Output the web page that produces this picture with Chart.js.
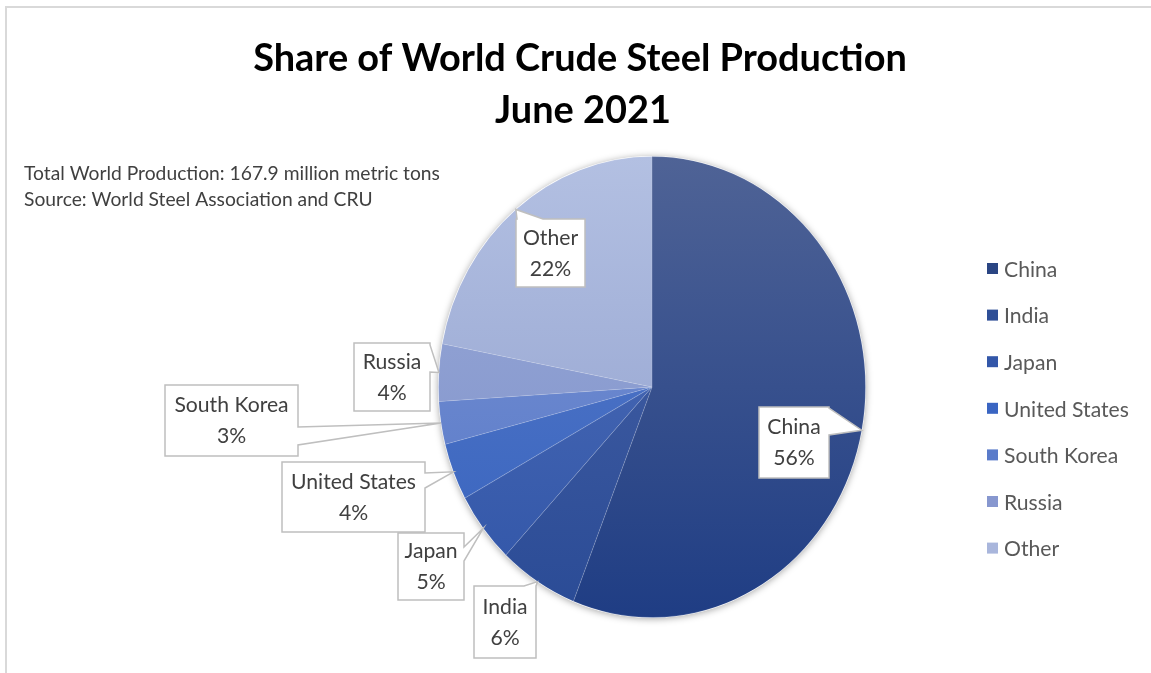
<!DOCTYPE html>
<html>
<head>
<meta charset="utf-8">
<script src="https://cdn.jsdelivr.net/npm/chart.js@4.4.1/dist/chart.umd.min.js"></script>
<style>
    html, body { margin: 0; padding: 0; background: #fff; }
    #wrap { position: relative; width: 1151px; height: 673px; }
</style>
</head>
<body>
<div id="wrap"><canvas id="graf" width="1151" height="673"></canvas></div>
<script>
// data
const countries = ['China', 'India', 'Japan', 'United States', 'South Korea', 'Russia', 'Other'];
const shares = [56, 6, 5, 4, 3, 4, 22];
const titleLines = ['Share of World Crude Steel Production', 'June 2021'];
const noteLines = ['Total World Production: 167.9 million metric tons', 'Source: World Steel Association and CRU'];

// gradient colours per slice (top of pie -> bottom of pie)
const topColors = ['#4f6396', '#4a64a6', '#5270b8', '#5a7cc9', '#7a94d4', '#9aaad8', '#b3c0e2'];
const bottomColors = ['#1f3d84', '#2a4b96', '#3055a8', '#3562be', '#5677c7', '#7d90c9', '#8d9dcc'];
const swatchColors = ['#2a4583', '#2f4f97', '#3357a9', '#3a65c2', '#5a7bca', '#8797cf', '#a9b6dc'];

// callout boxes (placed by hand like in the original)
const callouts = [
    { x: 759, y: 407, w: 70, h: 71, side: 'right', b1: 408, b2: 435 },
    { x: 474, y: 586, w: 62, h: 72, side: 'top', b1: 524, b2: 536 },
    { x: 398, y: 533, w: 66, h: 67, side: 'right', b1: 547, b2: 561 },
    { x: 282, y: 462, w: 143, h: 70, side: 'right', b1: 473, b2: 488 },
    { x: 165, y: 385, w: 133, h: 71, side: 'right', b1: 427, b2: 445 },
    { x: 354, y: 343, w: 76, h: 68, side: 'right', b1: 345, b2: 372 },
    { x: 516, y: 219, w: 69, h: 68, side: 'top', b1: 517, b2: 543 }
];

const FAM = 'Lato, "Noto Sans", sans-serif';
const ySquash = 231 / 214; // pie in the picture is a bit taller than wide

const mctx = document.createElement('canvas').getContext('2d');
function fitSize(text, weight, width) {
    mctx.font = weight + ' 100px ' + FAM;
    return 100 * width / mctx.measureText(text).width;
}
const titleSize = fitSize(titleLines[0], 'bold', 654);
const noteSize = fitSize(noteLines[0], 'normal', 416);
const labelSize = fitSize('United States', 'normal', 125);

function pieGeom(chart) {
    const a = chart.chartArea;
    const cx = (a.left + a.right) / 2, cy = (a.top + a.bottom) / 2;
    const r = Math.min(a.right - a.left, a.bottom - a.top) / 2;
    return { cx, cy, r };
}

const ellipsePlugin = {
    id: 'ellipse',
    beforeDatasetsDraw(chart) {
        const ctx = chart.ctx;
        const g = pieGeom(chart);
        ctx.save();
        ctx.save();
        ctx.shadowColor = 'rgba(0,0,0,0.35)';
        ctx.shadowBlur = 7;
        ctx.shadowOffsetY = 1;
        ctx.beginPath();
        ctx.ellipse(g.cx, g.cy, g.r, g.r * ySquash, 0, 0, Math.PI * 2);
        ctx.fillStyle = '#ffffff';
        ctx.fill();
        ctx.restore();
        ctx.translate(g.cx, g.cy);
        ctx.scale(1, ySquash);
        ctx.translate(-g.cx, -g.cy);
    },
    afterDatasetsDraw(chart) {
        chart.ctx.restore();
    }
};

const textPlugin = {
    id: 'texts',
    afterDraw(chart) {
        const ctx = chart.ctx;
        ctx.save();

        // frame
        ctx.strokeStyle = '#d9d9d9';
        ctx.lineWidth = 2;
        ctx.beginPath();
        ctx.moveTo(6, 673);
        ctx.lineTo(6, 7);
        ctx.lineTo(1151, 7);
        ctx.stroke();

        // title
        ctx.fillStyle = '#000000';
        ctx.textAlign = 'center';
        ctx.textBaseline = 'middle';
        ctx.font = 'bold ' + titleSize + 'px ' + FAM;
        ctx.fillText(titleLines[0], 580, 59);
        ctx.fillText(titleLines[1], 583, 111);

        // notes
        ctx.fillStyle = '#404040';
        ctx.textAlign = 'left';
        ctx.font = noteSize + 'px ' + FAM;
        ctx.fillText(noteLines[0], 24, 174);
        ctx.fillText(noteLines[1], 24, 200);

        // legend
        ctx.font = labelSize + 'px ' + FAM;
        countries.forEach((c, i) => {
            const y = 269 + i * 46.6;
            ctx.fillStyle = swatchColors[i];
            ctx.fillRect(987, y - 6, 11, 11);
            ctx.fillStyle = '#595959';
            ctx.fillText(c, 1004, y + 1);
        });

        // callouts
        const meta = chart.getDatasetMeta(0);
        const g = pieGeom(chart);
        meta.data.forEach((arc, i) => {
            const p = arc.getProps(['startAngle', 'endAngle', 'outerRadius'], true);
            const mid = (p.startAngle + p.endAngle) / 2;
            const tx = g.cx + Math.cos(mid) * p.outerRadius;
            const ty = g.cy + Math.sin(mid) * p.outerRadius * ySquash;
            const b = callouts[i];
            ctx.beginPath();
            ctx.moveTo(b.x, b.y);
            if (b.side === 'top') {
                ctx.lineTo(b.b1, b.y);
                ctx.lineTo(tx, ty);
                ctx.lineTo(b.b2, b.y);
            }
            ctx.lineTo(b.x + b.w, b.y);
            if (b.side === 'right') {
                ctx.lineTo(b.x + b.w, b.b1);
                ctx.lineTo(tx, ty);
                ctx.lineTo(b.x + b.w, b.b2);
            }
            ctx.lineTo(b.x + b.w, b.y + b.h);
            ctx.lineTo(b.x, b.y + b.h);
            ctx.closePath();
            ctx.fillStyle = '#ffffff';
            ctx.fill();
            ctx.strokeStyle = '#bfbfbf';
            ctx.lineWidth = 1.5;
            ctx.stroke();

            ctx.fillStyle = '#404040';
            ctx.textAlign = 'center';
            const mx = b.x + b.w / 2, my = b.y + b.h / 2;
            ctx.fillText(countries[i], mx, my - 15);
            ctx.fillText(shares[i] + '%', mx, my + 16);
        });

        ctx.restore();
    }
};

const ctx = document.getElementById('graf').getContext('2d');
new Chart(ctx, {
    type: 'pie',
    data: {
        labels: countries,
        datasets: [{
            data: shares,
            backgroundColor: function (context) {
                const i = context.dataIndex;
                const chart = context.chart;
                if (!chart.chartArea) return bottomColors[i];
                const g = pieGeom(chart);
                const grad = chart.ctx.createLinearGradient(0, g.cy - g.r, 0, g.cy + g.r);
                grad.addColorStop(0, topColors[i]);
                grad.addColorStop(1, bottomColors[i]);
                return grad;
            },
            borderColor: 'rgba(255,255,255,0.12)',
            borderWidth: 1,
            clip: false
        }]
    },
    options: {
        responsive: false,
        animation: false,
        events: [],
        layout: { padding: { left: 438, right: 285, top: 156, bottom: 55 } },
        plugins: {
            legend: { display: false },
            title: { display: false },
            tooltip: { enabled: false }
        }
    },
    plugins: [ellipsePlugin, textPlugin]
});
</script>
</body>
</html>
